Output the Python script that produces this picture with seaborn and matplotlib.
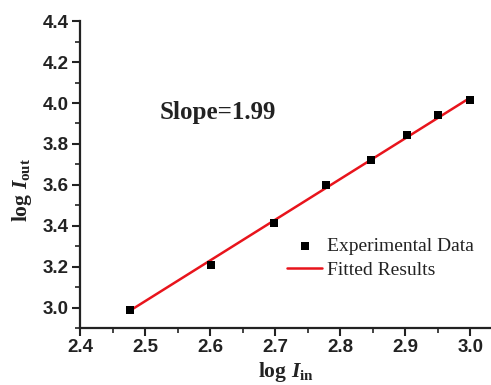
import numpy as np
import pandas as pd
import matplotlib
matplotlib.use("Agg")
import matplotlib.pyplot as plt
import seaborn as sns
from matplotlib.ticker import MultipleLocator

# Data
log_in = [2.477, 2.602, 2.699, 2.778, 2.848, 2.903, 2.951, 3.000]
log_out = [2.99, 3.21, 3.415, 3.60, 3.722, 3.845, 3.94, 4.013]
slope = 1.99
intercept = -1.944
x_ticks = [2.4, 2.5, 2.6, 2.7, 2.8, 2.9, 3.0]
y_ticks = [3.0, 3.2, 3.4, 3.6, 3.8, 4.0, 4.2, 4.4]

df = pd.DataFrame({"x": log_in, "y": log_out})
df["fit"] = slope * df["x"] + intercept

sns.set_theme(style="ticks")
plt.rcParams["font.family"] = ["Liberation Sans", "DejaVu Sans"]
plt.rcParams["mathtext.fontset"] = "custom"
plt.rcParams["mathtext.rm"] = "Liberation Serif"
plt.rcParams["mathtext.it"] = "Liberation Serif:italic:bold"
plt.rcParams["mathtext.bf"] = "Liberation Serif:bold"

fig = plt.figure(figsize=(4.91, 3.85), dpi=100)
ax = fig.add_axes([0.163, 0.148, 0.837, 0.797])

sns.scatterplot(data=df, x="x", y="y", ax=ax, marker="s", s=28, color="black",
                edgecolor="black", linewidth=0, label="Experimental Data", zorder=3)
sns.lineplot(data=df, x="x", y="fit", ax=ax, color="#e8141c", linewidth=1.8,
             label="Fitted Results", zorder=2)

ax.set_xlim(2.4, 3.032)
ax.set_ylim(2.9, 4.4)
ax.set_xticks(x_ticks)
ax.set_yticks(y_ticks)
ax.xaxis.set_minor_locator(MultipleLocator(0.05))
ax.yaxis.set_minor_locator(MultipleLocator(0.1))
ax.set_xticklabels([f"{v:.1f}" for v in x_ticks], fontsize=13.5, fontweight="bold", color="#222222")
ax.set_yticklabels([f"{v:.1f}" for v in y_ticks], fontsize=13.5, fontweight="bold", color="#222222")
ax.tick_params(which="major", direction="out", length=6, width=1.5, color="#222222", pad=2)
ax.tick_params(which="minor", direction="out", length=3.5, width=1.2, color="#222222")

for s in ["top", "right"]:
    ax.spines[s].set_visible(False)
for s in ["left", "bottom"]:
    ax.spines[s].set_linewidth(1.6)
    ax.spines[s].set_color("#222222")

ax.set_xlabel(r"$\mathbf{log}\ \mathit{I}_{\mathbf{in}}$", fontsize=15.5, color="#222222")
ax.set_ylabel(r"$\mathbf{log}\ \mathit{I}_{\mathbf{out}}$", fontsize=15.5, color="#222222")
ax.xaxis.label.set_va("top")
ax.xaxis.set_label_coords(0.5, -0.105)
ax.yaxis.label.set_va("center")
ax.yaxis.set_label_coords(-0.142, 0.45)

ax.text(2.523, 3.955, "Slope=1.99", fontsize=18, fontweight="bold",
        family=["Liberation Serif", "DejaVu Serif"], color="#222222", va="center")

leg = ax.legend(loc="upper left", bbox_to_anchor=(0.504, 0.294), frameon=False,
                prop={"family": ["Liberation Serif", "DejaVu Serif"], "size": 14},
                handlelength=1.8, handletextpad=0.25, labelspacing=0.3, borderpad=0,
                borderaxespad=0)
for t in leg.get_texts():
    t.set_color("#222222")

ax.set_facecolor("white")
fig.patch.set_facecolor("white")
fig.savefig("out.png", dpi=100)
